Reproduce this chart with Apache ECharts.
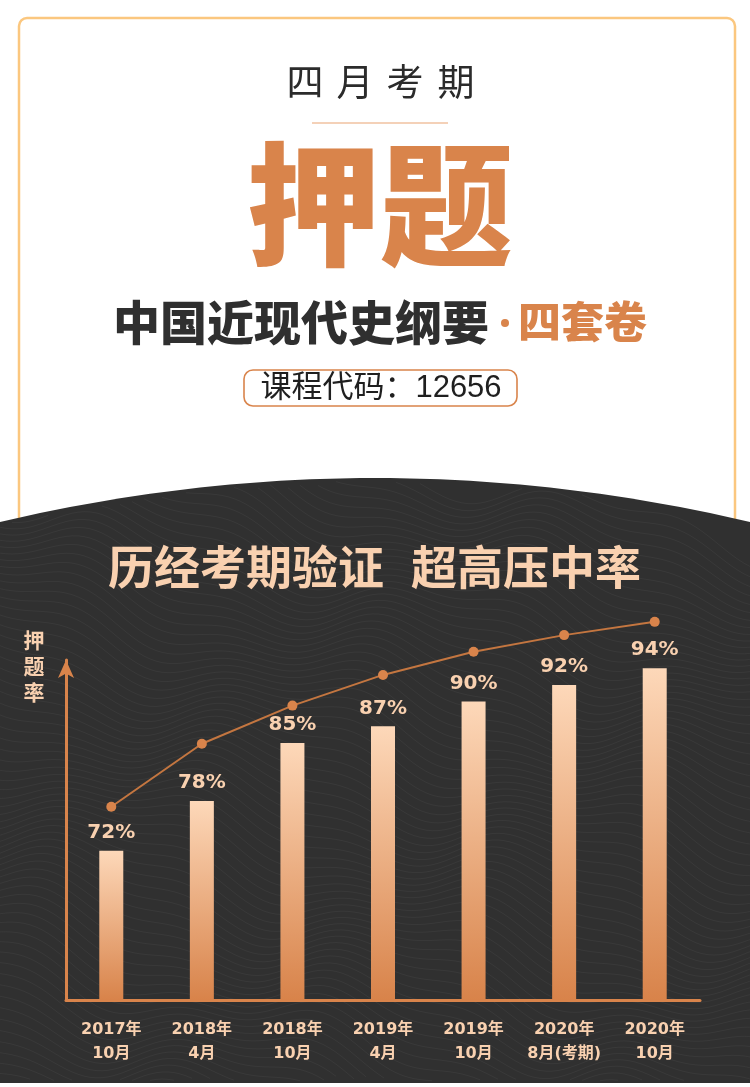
<!DOCTYPE html>
<html>
<head>
<meta charset="utf-8">
<script src="https://cdn.jsdelivr.net/npm/echarts@6/dist/echarts.min.js"></script>
<style>
html,body{margin:0;padding:0;background:#ffffff;}
#chart{width:750px;height:1087px;}
</style>
</head>
<body>
<div id="chart"></div>
<script>
// ---- data ----
const categories = ['2017年\n10月', '2018年\n4月', '2018年\n10月', '2019年\n4月', '2019年\n10月', '2020年\n8月(考期)', '2020年\n10月'];
const hitRates = [72, 78, 85, 87, 90, 92, 94];
const trendLine = [77.3, 84.9, 89.5, 93.2, 96.0, 98.0, 99.6];
const yAxisName = '押题率';
const headTitle = '四月考期';
const bigTitle = '押题';
const subTitleMain = '中国近现代史纲要';
const subTitleAccent = '四套卷';
const courseCode = '课程代码：12656';
const sectionTitleA = '历经考期验证';
const sectionTitleB = '超高压中率';

const ORANGE = '#d9844b';
const PEACH = '#f9d1b0';
const DARK = '#303030';
const CJK = '"Noto Sans CJK SC", "Noto Sans", sans-serif';
const DIGIT = '"DejaVu Sans", "Noto Sans CJK SC", sans-serif';
const THIN = '"Liberation Sans", "Noto Sans CJK SC", sans-serif';

const chart = echarts.init(document.getElementById('chart'), null, {renderer: 'canvas'});

// arc top of the dark section
function arcY(x) {
  const t = x / 750;
  return (1 - t) * (1 - t) * 522 + 2 * t * (1 - t) * 434 + t * t * 522;
}

const graphics = [];
// card
graphics.push({
  type: 'rect', z: -20,
  shape: {x: 19, y: 18, width: 716, height: 600, r: 8},
  style: {fill: '#ffffff', stroke: '#fbc77f', lineWidth: 2.5}
});
// divider
graphics.push({
  type: 'line', z: -5,
  shape: {x1: 312, y1: 123, x2: 448, y2: 123},
  style: {stroke: '#f0c2a0', lineWidth: 1.5}
});
// header chars
const headCenters = [305, 355, 405, 456];
headTitle.split('').forEach((ch, i) => {
  graphics.push({
    type: 'text', z: -5,
    style: {text: ch, x: headCenters[i], y: 82, textAlign: 'center', textVerticalAlign: 'middle',
      font: '400 37px ' + CJK, fill: '#2b2b2b'}
  });
});
graphics.push({
  type: 'text', z: -5,
  style: {text: bigTitle, x: 380, y: 204, textAlign: 'center', textVerticalAlign: 'middle',
    font: '900 133px ' + CJK, fill: ORANGE}
});
graphics.push({
  type: 'text', z: -5,
  style: {text: subTitleMain, x: 489, y: 322, textAlign: 'right', textVerticalAlign: 'middle',
    font: '900 47px ' + CJK, fill: '#2f2f2f'}
});
graphics.push({
  type: 'circle', z: -5,
  shape: {cx: 505, cy: 323, r: 4},
  style: {fill: ORANGE}
});
graphics.push({
  type: 'text', z: -5,
  style: {text: subTitleAccent, x: 518, y: 322, textAlign: 'left', textVerticalAlign: 'middle',
    font: '900 43px ' + CJK, fill: ORANGE}
});
graphics.push({
  type: 'rect', z: -5,
  shape: {x: 244, y: 370, width: 273, height: 36, r: 9},
  style: {fill: '#ffffff', stroke: ORANGE, lineWidth: 1.6}
});
graphics.push({
  type: 'text', z: -5,
  style: {text: courseCode, x: 381, y: 388, textAlign: 'center', textVerticalAlign: 'middle',
    font: '400 31px ' + THIN, fill: '#1f1f1f'}
});
// dark section (polygon following the arc)
const darkPts = [];
for (let x = 0; x <= 750; x += 10) darkPts.push([x, arcY(x)]);
darkPts.push([750, 1083]);
darkPts.push([0, 1083]);
graphics.push({
  type: 'polygon', z: -4,
  shape: {points: darkPts},
  style: {fill: DARK}
});
// subtle wavy texture (decoration)
for (let i = 0; i < 80; i++) {
  const y0 = 380 + i * 9;
  let seg = [];
  const flush = () => {
    if (seg.length > 1) {
      graphics.push({type: 'polyline', z: -3, silent: true,
        shape: {points: seg}, style: {stroke: '#393939', lineWidth: 1, fill: null}});
    }
    seg = [];
  };
  for (let x = 0; x <= 750; x += 6) {
    const y = y0 + 0.22 * x + 16 * Math.sin(x / 55 + i * 0.18) + 8 * Math.sin(x / 23 + i * 0.05);
    if (y > arcY(x) + 3 && y < 1081) seg.push([x, y]); else flush();
  }
  flush();
}
graphics.push({
  type: 'text', z: 5,
  style: {text: sectionTitleA, x: 246, y: 567, textAlign: 'center', textVerticalAlign: 'middle',
    font: '700 46px ' + CJK, fill: PEACH}
});
graphics.push({
  type: 'text', z: 5,
  style: {text: sectionTitleB, x: 526, y: 567, textAlign: 'center', textVerticalAlign: 'middle',
    font: '700 46px ' + CJK, fill: PEACH}
});
graphics.push({
  type: 'text', z: 5,
  style: {text: yAxisName.split('').join('\n'), x: 34, y: 666, textAlign: 'center', textVerticalAlign: 'middle',
    font: '700 21px ' + CJK, lineHeight: 26, fill: PEACH}
});

const option = {
  backgroundColor: 'transparent',
  animation: false,
  graphic: graphics,
  grid: {left: 66, right: 50, top: 660, bottom: 87, containLabel: false},
  xAxis: {
    type: 'category',
    data: categories,
    axisLine: {show: true, lineStyle: {color: ORANGE, width: 3}},
    axisTick: {show: false},
    axisLabel: {
      color: PEACH, fontFamily: DIGIT, fontWeight: 'bold', fontSize: 16,
      lineHeight: 24, margin: 18, interval: 0
    },
    splitLine: {show: false}
  },
  yAxis: {
    type: 'value',
    min: 54, max: 95,
    axisLine: {show: true, symbol: ['none', 'arrow'], symbolSize: [12, 18], lineStyle: {color: ORANGE, width: 3}},
    axisTick: {show: false},
    axisLabel: {show: false},
    splitLine: {show: false}
  },
  series: [
    {
      type: 'bar',
      data: hitRates,
      barWidth: 24,
      z: 3,
      itemStyle: {
        color: new echarts.graphic.LinearGradient(0, 0, 0, 1, [
          {offset: 0, color: '#fdd8b9'},
          {offset: 1, color: '#d8834a'}
        ])
      },
      label: {
        show: true, position: 'top', distance: 8,
        formatter: '{c}%', color: PEACH,
        fontFamily: DIGIT, fontWeight: 'bold', fontSize: 20
      }
    },
    {
      type: 'line',
      data: trendLine,
      clip: false,
      z: 4,
      symbol: 'circle',
      symbolSize: 10,
      lineStyle: {color: '#c47640', width: 2},
      itemStyle: {color: ORANGE},
      label: {show: false}
    }
  ]
};
chart.setOption(option);
</script>
</body>
</html>
